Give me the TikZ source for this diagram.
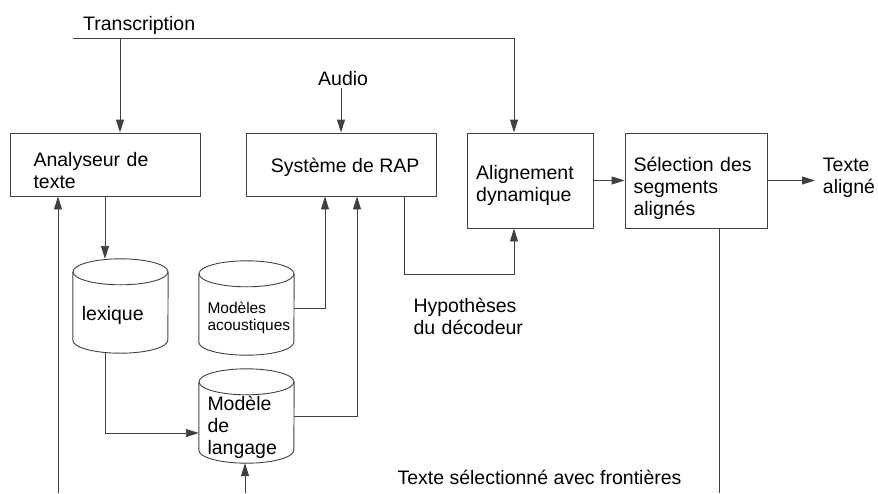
\documentclass[tikz,border=0pt]{standalone}
\usepackage{fontspec}
\setmainfont{Liberation Sans}
\usetikzlibrary{arrows.meta,calc}
\newcommand\cylout[1]{%
  \draw[ln] ($(#1.north west)+(0,13)$) -- ($(#1.south west)+(0,-13)$)
    arc[start angle=180,end angle=0,x radius=47.5,y radius=13]
    -- ($(#1.north east)+(0,13)$);
  \draw[ln] ($(#1.north)+(0,13)$) ellipse[x radius=47.5,y radius=13];}
\begin{document}
\begin{tikzpicture}[x=1pt,y=-1pt,
  ln/.style={draw=black!75, line width=0.9pt},
  arr/.style={ln, -{Triangle[length=13pt,width=8pt]}},
  box/.style={ln, rectangle, inner sep=0pt},
  cylbox/.style={inner sep=0pt, rectangle, minimum width=95pt, minimum height=94pt},
  txt/.style={inner sep=0pt, anchor=base west, font=\fontsize{19.5}{22}\selectfont, align=left},
  small/.style={txt, font=\fontsize{15.5}{17.4}\selectfont}]
\path[use as bounding box] (0,0) rectangle (878,493);

% boxes
\node[box, minimum width=190pt, minimum height=63pt] (ana) at (105,164.5) {};
\node[box, minimum width=190pt, minimum height=63pt] (sys) at (341,164.5) {};
\node[box, minimum width=126pt, minimum height=95pt] (ali) at (530,180.5) {};
\node[box, minimum width=142pt, minimum height=95pt] (sel) at (696,180.5) {};

% cylinders
\node[cylbox] (lex) at (120.5,306) {};
\node[cylbox] (aco) at (246.5,308) {};
\node[cylbox] (lm) at (246.5,416) {};
\cylout{lex}
\cylout{aco}
\cylout{lm}

% texts
\node[txt] (t-trans) at (83,30) {Transcription};
\node[txt] (t-audio) at (318,85) {Audio};
\node[txt, text width=150pt] (t-ana) at (33.3,166.7) {Analyseur de\\texte};
\node[txt] (t-sys) at (270.7,172) {Système de RAP};
\node[txt, text width=110pt] (t-ali) at (476,179.3) {Alignement\\dynamique};
\node[txt, text width=130pt] (t-sel) at (633.3,171.7) {Sélection des\\segments\\alignés};
\node[txt, text width=55pt] (t-out) at (822.7,171.7) {Texte\\aligné};
\node[txt] (t-lex) at (81.7,320.7) {lexique};
\node[small, text width=90pt] (t-aco) at (207.3,313.3) {Modèles\\acoustiques};
\node[txt, text width=90pt] (t-lm) at (207.3,410.7) {Modèle\\de\\langage};
\node[txt, text width=150pt] (t-hyp) at (413.3,312.7) {Hypothèses\\du décodeur};
\node[txt] (t-front) at (397.3,484.3) {Texte sélectionné avec frontières};

% coordinates
\coordinate (tl) at (73,38);
\coordinate (tr) at (514,38);
\coordinate (ta) at (120,38);
\coordinate (outp) at (815,180.5);
\coordinate (h1) at (404,274);
\coordinate (h2) at (514,274);
\coordinate (lc) at (105,433);
\coordinate (b1) at (58,493);
\coordinate (b2) at (245,493);
\coordinate (b3) at (719,493);

% connectors
\draw[ln] (tl) -- (tr);
\draw[arr] (tr) -- (tr |- ali.north);
\draw[arr] (ta) -- (ta |- ana.north);
\draw[arr] ([yshift=-3pt]t-audio.south -| sys.north) -- (sys.north);
\draw[arr] (ali.east) -- (sel.west);
\draw[arr] (sel.east) -- (outp);
\draw[arr] (h1 |- sys.south) -- (h1) -- (h2) -- (h2 |- ali.south);
\draw[arr] (aco.east) -| ($(sys.south)+(-16,0)$);
\draw[arr] (lm.east) -| ($(sys.south)+(16,0)$);
\draw[arr] (ana.south) -- (ana.south |- lex.north);
\draw[arr] (lc |- lex.south) -- (lc) -- (lc -| lm.west);
\draw[arr] (b1) -- (b1 |- ana.south);
\draw[arr] (b2) -- (b2 |- lm.south);
\draw[ln] (b3 |- sel.south) -- (b3);
\end{tikzpicture}
\end{document}
